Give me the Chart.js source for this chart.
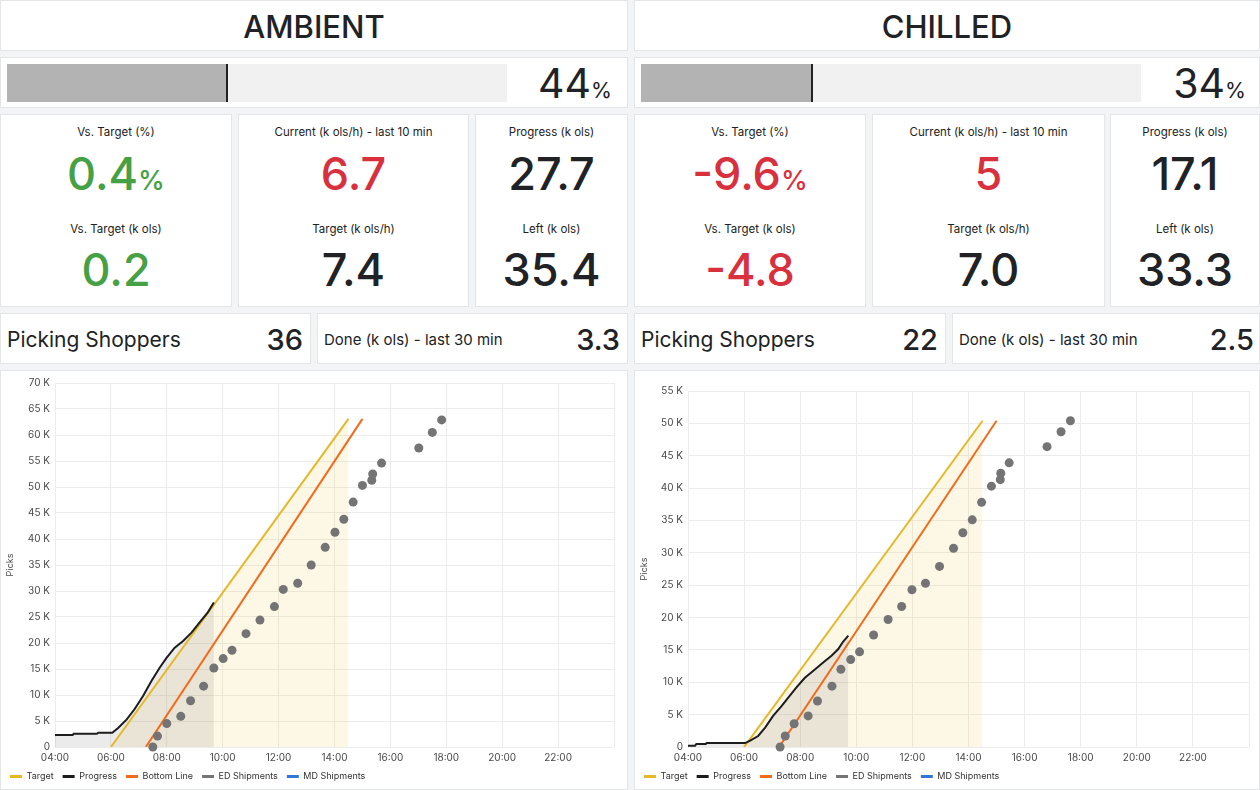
<!DOCTYPE html>
<html><head><meta charset="utf-8">
<script src="https://cdn.jsdelivr.net/npm/chart.js@4.4.1/dist/chart.umd.min.js"></script>
<style>
html,body{margin:0;padding:0;background:#f3f4f5;width:1260px;height:790px;overflow:hidden;font-family:Inter,"Noto Sans",sans-serif;color:#202226;}
.p{position:absolute;background:#fff;border:1px solid #e4e5e7;box-sizing:border-box;overflow:hidden;}
.t{position:absolute;line-height:1;white-space:nowrap;transform:translateY(-50%);}
.c{left:0;right:0;text-align:center;}
.title{font-size:31px;font-weight:500;top:25px;}
.bar{position:absolute;left:6px;top:6px;height:38px;width:500px;background:#f1f1f1;}
.fill{position:absolute;left:0;top:0;height:38px;background:#b3b3b3;border-right:2px solid #222;box-sizing:border-box;}
.pct{font-size:41px;top:25px;right:15px;}
.pct small{font-size:0.52em;}
.val small{font-size:0.6em;}
.lab{font-size:11.5px;color:#222;}
.val{font-size:45px;font-weight:500;}
.green{color:#46a044;}
.red{color:#d9303e;}
.big{font-size:21px;top:25px;left:6px;}
.num{font-size:29px;font-weight:500;top:25px;right:7px;}
.mid{font-size:15px;top:25px;left:6px;}
.cw{position:absolute;left:0;top:0;width:100%;height:calc(100% + 2px);}
</style></head>
<body>
<!-- AMBIENT -->
<div class="p" style="left:0;top:0;width:628px;height:51px;"><div class="t c title">AMBIENT</div></div>
<div class="p" style="left:0;top:57px;width:628px;height:51px;">
  <div class="bar"><div class="fill" style="width:221px"></div></div>
  <div class="t pct">44<small>%</small></div>
</div>
<div class="p" style="left:0;top:114px;width:232px;height:193px;">
  <div class="t c lab" style="top:18px">Vs. Target (%)</div>
  <div class="t c val green" style="top:58px">0.4<small>%</small></div>
  <div class="t c lab" style="top:115px">Vs. Target (k ols)</div>
  <div class="t c val green" style="top:154px">0.2</div>
</div>
<div class="p" style="left:238px;top:114px;width:231px;height:193px;">
  <div class="t c lab" style="top:18px">Current (k ols/h) - last 10 min</div>
  <div class="t c val red" style="top:58px">6.7</div>
  <div class="t c lab" style="top:115px">Target (k ols/h)</div>
  <div class="t c val" style="top:154px">7.4</div>
</div>
<div class="p" style="left:475px;top:114px;width:153px;height:193px;">
  <div class="t c lab" style="top:18px">Progress (k ols)</div>
  <div class="t c val" style="top:58px">27.7</div>
  <div class="t c lab" style="top:115px">Left (k ols)</div>
  <div class="t c val" style="top:154px">35.4</div>
</div>
<div class="p" style="left:0;top:313px;width:311px;height:51px;">
  <div class="t big">Picking Shoppers</div><div class="t num">36</div>
</div>
<div class="p" style="left:317px;top:313px;width:311px;height:51px;">
  <div class="t mid">Done (k ols) - last 30 min</div><div class="t num">3.3</div>
</div>
<div class="p" style="left:0;top:370px;width:628px;height:420px;"><div class="cw"><canvas id="cA"></canvas></div></div>

<!-- CHILLED -->
<div class="p" style="left:634px;top:0;width:626px;height:51px;"><div class="t c title">CHILLED</div></div>
<div class="p" style="left:634px;top:57px;width:626px;height:51px;">
  <div class="bar"><div class="fill" style="width:172px"></div></div>
  <div class="t pct" style="right:13px">34<small>%</small></div>
</div>
<div class="p" style="left:634px;top:114px;width:232px;height:193px;">
  <div class="t c lab" style="top:18px">Vs. Target (%)</div>
  <div class="t c val red" style="top:58px">-9.6<small>%</small></div>
  <div class="t c lab" style="top:115px">Vs. Target (k ols)</div>
  <div class="t c val red" style="top:154px">-4.8</div>
</div>
<div class="p" style="left:872px;top:114px;width:233px;height:193px;">
  <div class="t c lab" style="top:18px">Current (k ols/h) - last 10 min</div>
  <div class="t c val red" style="top:58px">5</div>
  <div class="t c lab" style="top:115px">Target (k ols/h)</div>
  <div class="t c val" style="top:154px">7.0</div>
</div>
<div class="p" style="left:1110px;top:114px;width:150px;height:193px;">
  <div class="t c lab" style="top:18px">Progress (k ols)</div>
  <div class="t c val" style="top:58px">17.1</div>
  <div class="t c lab" style="top:115px">Left (k ols)</div>
  <div class="t c val" style="top:154px">33.3</div>
</div>
<div class="p" style="left:634px;top:313px;width:312px;height:51px;">
  <div class="t big">Picking Shoppers</div><div class="t num">22</div>
</div>
<div class="p" style="left:952px;top:313px;width:308px;height:51px;">
  <div class="t mid">Done (k ols) - last 30 min</div><div class="t num" style="right:5px">2.5</div>
</div>
<div class="p" style="left:634px;top:370px;width:626px;height:420px;"><div class="cw"><canvas id="cC"></canvas></div></div>

<script>
// ---------- DATA ----------
const seriesNames = ["Target", "Progress", "Bottom Line", "ED Shipments", "MD Shipments"];
const xTickHours = [4, 6, 8, 10, 12, 14, 16, 18, 20, 22, 24];

// Ambient
const ambientTargetTimes = ["06:00", "14:30"];
const ambientTargetValues = [0, 63100];
const ambientBottomTimes = ["07:15", "15:00"];
const ambientBottomValues = [0, 63100];
const ambientProgressTimes = ["04:00","04:38","04:40","05:30","05:33","06:03","06:16","06:34","06:51","07:09","07:27","07:45","07:59","08:17","08:35","08:53","09:11","09:28","09:41"];
const ambientProgressValues = [2300,2300,2550,2550,2750,2750,3700,5300,7300,9800,12700,15300,17100,19100,20400,22000,24000,25900,27800];
const ambientEdTimes = ["07:30","07:40","08:00","08:30","08:51","09:19","09:41","10:01","10:20","10:50","11:20","11:51","12:10","12:41","13:10","13:40","14:01","14:20","14:40","15:00","15:20","15:22","15:41","17:01","17:30","17:50"];
const ambientEdValues = [0,2100,4500,5900,8900,11700,15200,17000,18600,21800,24400,27000,30300,31500,35000,38400,41300,43800,47100,50300,51300,52500,54600,57500,60500,62900];
const ambientMdTimes = [];
const ambientMdValues = [];
const ambientYMax = 70000;

// Chilled
const chilledTargetTimes = ["06:00", "14:30"];
const chilledTargetValues = [0, 50400];
const chilledBottomTimes = ["07:15", "15:00"];
const chilledBottomValues = [0, 50400];
const chilledProgressTimes = ["04:00","04:15","04:18","04:38","04:40","06:02","06:13","06:30","06:45","07:02","07:20","07:34","07:52","08:10","08:32","08:53","09:07","09:21","09:32","09:43"];
const chilledProgressValues = [200,200,480,480,600,600,1000,1700,3000,4800,6300,7600,9200,10700,12000,13300,14100,15100,16300,17200];
const chilledEdTimes = ["07:17","07:28","07:47","08:17","08:37","09:08","09:27","09:48","10:07","10:37","11:08","11:37","11:59","12:28","12:58","13:28","13:48","14:08","14:28","14:49","15:08","15:09","15:27","16:48","17:18","17:38"];
const chilledEdValues = [0,1700,3600,4800,7100,9400,12000,13500,14700,17300,19700,21700,24300,25300,27900,30700,33100,35100,37800,40300,41300,42300,43900,46400,48700,50400];
const chilledMdTimes = [];
const chilledMdValues = [];
const chilledYMax = 55000;

// ---------- BUILD ----------
function toH(t){ const [h,m] = t.split(":").map(Number); return h + m/60; }
function pts(times, vals){ return times.map((t,i)=>({x: toH(t), y: vals[i]})); }
const colors = {target:'#e4b829', progress:'#1c1c1e', bottom:'#f26a1c', ed:'#747474', md:'#3274d9'};

function makeChart(id, d, lay){
  const ctx = document.getElementById(id);
  new Chart(ctx, {
    type: 'line',
    data: { datasets: [
      { label: seriesNames[0], data: pts(d.tT, d.tV), borderColor: colors.target, borderWidth: 2, pointRadius: 0,
        fill: 'origin', backgroundColor: 'rgba(240,195,60,0.13)', order: 4 },
      { label: seriesNames[1], data: pts(d.pT, d.pV), borderColor: colors.progress, borderWidth: 2, pointRadius: 0,
        fill: 'origin', backgroundColor: 'rgba(120,120,120,0.15)', order: 3 },
      { label: seriesNames[2], data: pts(d.bT, d.bV), borderColor: colors.bottom, borderWidth: 2, pointRadius: 0,
        fill: false, order: 2 },
      { label: seriesNames[3], data: pts(d.eT, d.eV), showLine: false, borderColor: colors.ed, backgroundColor: colors.ed,
        pointRadius: 4.5, pointBorderWidth: 0, pointBackgroundColor: colors.ed, clip: false, order: 0 },
      { label: seriesNames[4], data: pts(d.mT, d.mV), showLine: false, borderColor: colors.md, backgroundColor: colors.md,
        pointRadius: 4, order: 1 }
    ]},
    options: {
      responsive: true, maintainAspectRatio: false, animation: false,
      layout: { padding: { left: 0, right: lay.right, top: lay.top, bottom: 0 } },
      scales: {
        x: { type: 'linear', min: 4, max: 24,
          afterBuildTicks: (s) => { s.ticks = xTickHours.map(v => ({value: v})); },
          afterFit: (s) => { s.height = 16; },
          ticks: { autoSkip: false, maxRotation: 0, color: '#4a4a4a', font: {family: 'Inter', size: 10}, padding: 5,
            callback: (v) => v >= 24 ? '' : String(v).padStart(2,'0') + ':00' },
          grid: { color: '#ececec', drawTicks: false }, border: { display: false } },
        y: { min: 0, max: d.yMax,
          afterFit: (s) => { s.width = lay.yWidth; },
          ticks: { stepSize: 5000, color: '#4a4a4a', font: {family: 'Inter', size: 10}, padding: 5,
            callback: (v) => v === 0 ? '0' : (v/1000) + ' K' },
          title: { display: true, text: 'Picks', color: '#4a4a4a', font: {family: 'Inter', size: 9}, padding: {top: 4, bottom: 0} },
          grid: { color: '#ececec', drawTicks: false }, border: { display: false } }
      },
      plugins: {
        filler: { drawTime: 'beforeDatasetsDraw' },
        tooltip: { enabled: false },
        legend: { position: 'bottom', align: 'start',
          labels: { boxWidth: 12, boxHeight: 3, padding: 9, color: '#333', font: {family: 'Inter', size: 9},
            sort: (a, b) => a.datasetIndex - b.datasetIndex,
            generateLabels: (chart) => {
              const items = Chart.defaults.plugins.legend.labels.generateLabels(chart);
              items.forEach(it => { const ds = chart.data.datasets[it.datasetIndex];
                it.fillStyle = ds.borderColor; it.strokeStyle = ds.borderColor; it.lineWidth = 0; });
              return items;
            } } }
      }
    }
  });
}

makeChart('cA', {tT: ambientTargetTimes, tV: ambientTargetValues, bT: ambientBottomTimes, bV: ambientBottomValues,
  pT: ambientProgressTimes, pV: ambientProgressValues, eT: ambientEdTimes, eV: ambientEdValues,
  mT: ambientMdTimes, mV: ambientMdValues, yMax: ambientYMax}, {yWidth: 54, right: 13, top: 12});
makeChart('cC', {tT: chilledTargetTimes, tV: chilledTargetValues, bT: chilledBottomTimes, bV: chilledBottomValues,
  pT: chilledProgressTimes, pV: chilledProgressValues, eT: chilledEdTimes, eV: chilledEdValues,
  mT: chilledMdTimes, mV: chilledMdValues, yMax: chilledYMax}, {yWidth: 53, right: 10, top: 20});
</script>
</body></html>
